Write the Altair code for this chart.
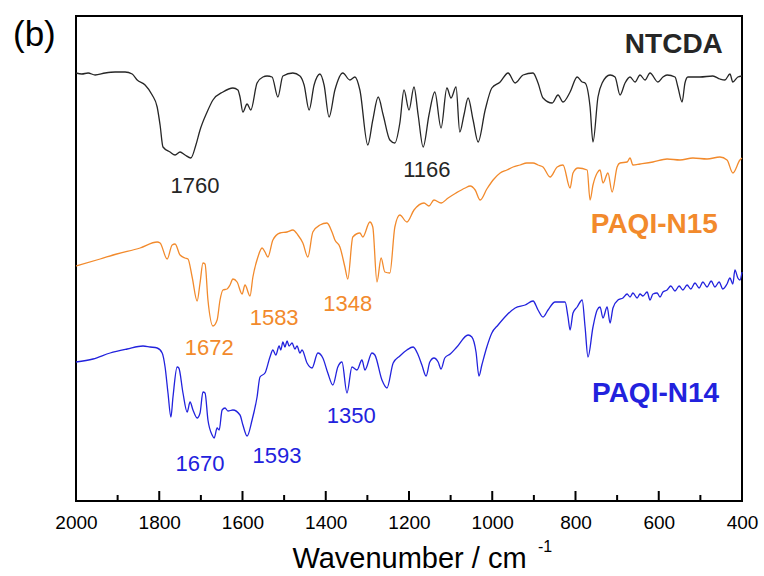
import altair as alt
import pandas as pd

# ---------------- data ----------------
ntcda_wn = [2000, 1986, 1971, 1954, 1930, 1906, 1882, 1865, 1853, 1834, 1817, 1805, 1798, 1791,
            1774, 1762, 1750, 1738, 1724, 1712, 1702, 1685, 1671, 1647, 1623, 1611, 1606, 1599,
            1589, 1580, 1565, 1551, 1541, 1529, 1515, 1503, 1479, 1462, 1452, 1440, 1428, 1414,
            1404, 1392, 1378, 1359, 1342, 1330, 1318, 1299, 1287, 1274, 1262, 1246, 1234, 1222,
            1212, 1200, 1188, 1178, 1166, 1152, 1138, 1123, 1109, 1099, 1087, 1078, 1068, 1058,
            1046, 1034, 1017, 1001, 981, 962, 945, 926, 902, 890, 878, 856, 842, 830, 813, 796,
            784, 777, 765, 758, 746, 736, 717, 705, 693, 681, 669, 657, 645, 633, 621, 602, 590,
            580, 561, 554, 544, 537, 530, 501, 470, 453, 441, 429, 422, 410, 400]
ntcda_y = [428, 427, 428, 426, 428, 429, 429, 427, 421, 416, 406, 394, 376, 354,
           349, 346, 349, 346, 343, 356, 371, 389, 401, 409, 413, 411, 404, 389,
           397, 391, 418, 424, 425, 424, 404, 425, 428, 425, 416, 391, 416, 427,
           416, 384, 411, 428, 421, 424, 411, 356, 381, 404, 386, 361, 358, 378,
           411, 391, 414, 386, 354, 386, 409, 373, 413, 403, 414, 369, 386, 403,
           381, 359, 391, 413, 419, 428, 418, 426, 428, 418, 403, 398, 406, 399, 409, 424,
           419, 418, 394, 359, 404, 418, 426, 424, 406, 418, 424, 419, 426, 421, 428, 419, 424,
           426, 424, 414, 399, 418, 424, 424, 425, 422, 421, 427, 419, 424, 425]

n15_wn = [2000, 1942, 1902, 1846, 1805, 1798, 1781, 1769, 1762, 1750, 1738, 1731, 1721, 1709,
          1702, 1695, 1690, 1683, 1671, 1661, 1654, 1647, 1637, 1630, 1623, 1613, 1601, 1594,
          1582, 1575, 1563, 1553, 1546, 1539, 1527, 1510, 1493, 1479, 1467, 1455, 1443, 1431,
          1414, 1397, 1385, 1378, 1366, 1354, 1347, 1335, 1318, 1311, 1294, 1287, 1277, 1267,
          1258, 1246, 1234, 1222, 1205, 1188, 1164, 1152, 1140, 1123, 1106, 1087, 1065, 1053,
          1041, 1029, 1013, 998, 981, 965, 950, 933, 917, 902, 890, 878, 861, 844, 830, 813,
          806, 794, 772, 765, 758, 748, 741, 734, 722, 712, 700, 693, 676, 669, 662, 645, 614,
          580, 549, 518, 484, 453, 436, 422, 405, 400]
n15_y = [235, 242, 247, 253, 259, 258, 242, 256, 257, 246, 243, 242, 224, 200,
         218, 238, 237, 201, 175, 181, 201, 211, 212, 216, 222, 219, 207, 216,
         205, 224, 244, 253, 249, 244, 261, 268, 269, 271, 266, 258, 244, 269,
         276, 278, 269, 261, 254, 234, 222, 264, 268, 264, 279, 274, 219, 243,
         229, 228, 274, 286, 279, 291, 298, 295, 301, 298, 303, 308, 313, 315,
         311, 301, 312, 321, 328, 331, 334, 336, 338, 338, 336, 334, 324, 334, 336, 313,
         328, 333, 331, 301, 316, 328, 331, 318, 328, 309, 334, 338, 339, 343, 336, 337, 339,
         342, 341, 343, 342, 344, 341, 328, 341, 343]

n14_wn = [2000, 1959, 1918, 1877, 1839, 1822, 1805, 1793, 1786, 1779, 1772, 1767, 1757, 1753,
          1743, 1733, 1726, 1719, 1709, 1702, 1695, 1690, 1683, 1673, 1668, 1661, 1656, 1649,
          1642, 1635, 1623, 1606, 1599, 1589, 1577, 1565, 1558, 1546, 1534, 1527, 1520, 1512,
          1508, 1503, 1498, 1493, 1488, 1481, 1474, 1469, 1462, 1457, 1445, 1433, 1419, 1407,
          1395, 1383, 1371, 1361, 1349, 1337, 1325, 1313, 1306, 1289, 1282, 1265, 1253, 1238,
          1222, 1205, 1190, 1178, 1169, 1159, 1150, 1140, 1130, 1123, 1114, 1101, 1085, 1058,
          1049, 1039, 1032, 1025, 1013, 1001, 986, 965, 945, 921, 902, 890, 878, 866, 849, 825,
          818, 813, 806, 796, 784, 777, 770, 758, 748, 741, 734, 724, 717, 710, 698, 686, 676,
          669, 662, 652, 645, 638, 628, 621, 614, 604, 597, 590, 580, 571, 561, 551, 542, 532,
          523, 513, 503, 494, 484, 474, 465, 455, 446, 436, 429, 422, 417, 410, 405, 400]
n14_y = [139, 142, 148, 152, 155, 154, 153, 148, 134, 108, 84, 104, 134, 133,
         108, 89, 99, 91, 83, 88, 109, 108, 81, 66, 63, 73, 71, 91,
         93, 90, 91, 86, 76, 65, 81, 104, 124, 128, 144, 151, 146, 155,
         151, 159, 154, 160, 155, 158, 152, 155, 148, 151, 138, 133, 148, 143,
         128, 116, 134, 139, 108, 134, 131, 141, 131, 148, 146, 121, 113, 138,
         145, 151, 154, 146, 136, 125, 139, 143, 139, 132, 143, 147, 154, 166,
         164, 149, 125, 136, 154, 168, 176, 186, 193, 196, 200, 191, 184, 191, 199, 199,
         184, 171, 188, 194, 201, 174, 144, 174, 191, 194, 183, 194, 178, 193, 201, 203, 207,
         204, 208, 203, 207, 205, 209, 201, 207, 208, 204, 209, 211, 215, 210, 215, 211, 216,
         212, 218, 213, 219, 214, 220, 214, 219, 212, 217, 223, 217, 231, 223, 221, 229]

series_names = ["NTCDA", "PAQI-N15", "PAQI-N14"]
series_colors = ["#262626", "#f28a2c", "#2222dd"]

# peak annotations: text, wavenumber (label centre), intensity (baseline), series
peak_text = ["1760", "1166", "1672", "1583", "1348", "1670", "1593", "1350"]
peak_wn = [1714, 1157, 1680, 1524, 1347, 1702, 1517, 1339]
peak_y = [308, 324, 146, 176, 190, 30, 38, 78]
peak_series = ["NTCDA", "NTCDA", "PAQI-N15", "PAQI-N15", "PAQI-N15", "PAQI-N14", "PAQI-N14", "PAQI-N14"]

# sample names: right edge wavenumber, intensity (baseline)
name_wn = [446, 458, 455]
name_y = [448, 268, 99]

major_ticks = [2000, 1800, 1600, 1400, 1200, 1000, 800, 600, 400]
minor_ticks = [1900, 1700, 1500, 1300, 1100, 900, 700, 500]

# ---------------- tables ----------------
rows = []
for name, wns, ys in zip(series_names, [ntcda_wn, n15_wn, n14_wn], [ntcda_y, n15_y, n14_y]):
    for w, v in zip(wns, ys):
        rows.append({"series": name, "wn": w, "y": v})
spectra = pd.DataFrame(rows)
peaks = pd.DataFrame({"text": peak_text, "wn": peak_wn, "y": peak_y, "series": peak_series})
names = pd.DataFrame({"text": series_names, "wn": name_wn, "y": name_y, "series": series_names})
majors = pd.DataFrame({"wn": major_ticks})
minors = pd.DataFrame({"wn": minor_ticks})

FONT = "Liberation Sans"
xscale = alt.Scale(domain=[400, 2000], reverse=True, nice=False, zero=False)
yscale = alt.Scale(domain=[0, 485], nice=False, zero=False)
cscale = alt.Scale(domain=series_names, range=series_colors)

xaxis = alt.Axis(values=major_ticks, title="Wavenumber / cm", domain=False, ticks=False,
                 grid=False, labelFont=FONT, labelFontSize=19, labelColor="black",
                 labelPadding=12, labelFlush=False, labelOverlap=False, format="d",
                 titleFont=FONT, titleFontSize=29, titleFontWeight="normal",
                 titleColor="black", titleBaseline="alphabetic", titleY=66)

X = alt.X("wn:Q", scale=xscale, axis=xaxis)
Y = alt.Y("y:Q", scale=yscale, axis=None)

lines = alt.Chart(spectra).mark_line(strokeWidth=1.3, interpolate="monotone").encode(
    x=X, y=Y,
    color=alt.Color("series:N", scale=cscale, legend=None),
    detail="series:N",
)

peak_lbl = alt.Chart(peaks).mark_text(font=FONT, fontSize=22, align="center",
                                      baseline="alphabetic").encode(
    x=X, y=Y, text="text:N",
    color=alt.Color("series:N", scale=cscale, legend=None),
)

name_lbl = alt.Chart(names).mark_text(font=FONT, fontSize=28, fontWeight="bold",
                                      align="right", baseline="alphabetic").encode(
    x=X, y=Y, text="text:N",
    color=alt.Color("series:N", scale=cscale, legend=None),
)

major_rule = alt.Chart(majors).mark_rule(color="black", strokeWidth=2).encode(
    x=X, y=alt.value(485), y2=alt.value(475))
minor_rule = alt.Chart(minors).mark_rule(color="black", strokeWidth=2).encode(
    x=X, y=alt.value(485), y2=alt.value(479))

panel_lbl = alt.Chart(pd.DataFrame({"t": ["(b)"]})).mark_text(
    font=FONT, fontSize=35, align="left", baseline="alphabetic", color="black").encode(
    text="t:N", x=alt.value(-63), y=alt.value(30))

sup_lbl = alt.Chart(pd.DataFrame({"t": ["-1"]})).mark_text(
    font=FONT, fontSize=16, align="left", baseline="alphabetic", color="black").encode(
    text="t:N", x=alt.value(462), y=alt.value(536))

chart = alt.layer(lines, major_rule, minor_rule, peak_lbl, name_lbl, panel_lbl, sup_lbl).properties(
    width=666, height=485,
    padding={"left": 76, "top": 16, "right": 22, "bottom": 75},
    autosize=alt.AutoSizeParams(type="none"),
    background="white",
).configure_view(stroke="black", strokeWidth=2)

chart.save("out.html", embed_options={"renderer": "svg", "actions": False})
